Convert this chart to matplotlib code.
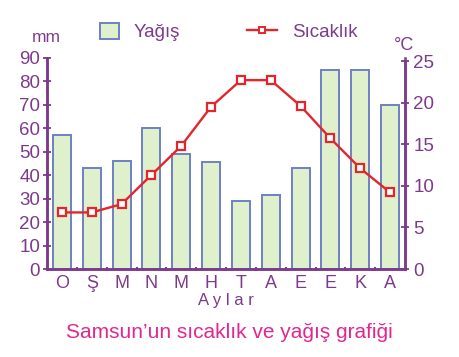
import matplotlib.pyplot as plt
from matplotlib.patches import Patch
from matplotlib.lines import Line2D

months = ["O", "Ş", "M", "N", "M", "H", "T", "A", "E", "E", "K", "A"]
yagis = [57, 43, 46, 60, 49, 45.5, 29, 31.5, 43, 85, 85, 70]
sicaklik = [6.8, 6.8, 7.8, 11.3, 14.8, 19.5, 22.7, 22.7, 19.6, 15.7, 12.1, 9.2]

purple = "#7d3a8c"
pink = "#e2278f"
red = "#e3262b"

plt.rcParams['font.family'] = ['Liberation Sans', 'DejaVu Sans']

fig = plt.figure(figsize=(4.59, 3.57), dpi=100)
ax = fig.add_axes([47/459, 1-269/357, (405-47)/459, (269-58)/357])
ax2 = ax.twinx()

x = list(range(len(months)))
ax.bar(x, yagis, width=0.6, color="#dff0cd", edgecolor="#6e80c2", linewidth=1.4, zorder=2)
ax2.plot(x, sicaklik, color=red, lw=1.7, marker="s", ms=5.5, mfc="white", mec=red, mew=1.6, zorder=3)

ax.set_xlim(-0.5, 11.5)
ax.set_ylim(0, 90)
ax2.set_ylim(0, 25 * 211 / 208)

ax.set_yticks(range(0, 91, 10))
ax2.set_yticks(range(0, 26, 5))
ax.set_xticks(x)
ax.set_xticklabels(months)
ax.set_xticks([i + 0.5 for i in range(11)], minor=True)
ax.tick_params(axis="x", which="major", length=0, pad=4, labelsize=13, labelcolor=purple)
ax.tick_params(axis="x", which="minor", length=3, width=1.5, color=purple, direction="inout")
ax.tick_params(axis="y", length=6, width=1.3, color=purple, direction="inout", labelsize=13.5, labelcolor=purple, pad=2)
ax2.tick_params(axis="y", length=6, width=1.3, color=purple, direction="inout", labelsize=13.5, labelcolor=purple, pad=3)

for a in (ax, ax2):
    a.spines["top"].set_visible(False)
    for s in ("left", "right", "bottom"):
        a.spines[s].set_color(purple)
        a.spines[s].set_linewidth(1.8)
ax.spines["left"].set_bounds(0, 90)
ax2.spines["right"].set_bounds(0, 25)

ax.set_xlabel("A y l a r", color=purple, fontsize=12, labelpad=1)

fig.text(46/459, 1-37/357, "mm", color=purple, fontsize=12.5, ha="center", va="center")
fig.text(404/459, 1-46/357, "°C", color=purple, fontsize=13, ha="center", va="center")

# legend: two separate entries so each sits where it does in the original
leg1 = fig.legend([Patch(facecolor="#dff0cd", edgecolor="#6e80c2", linewidth=1.4)], ["Yağış"],
                  frameon=False, loc="center left", bbox_to_anchor=(83/459, 1-32/357),
                  handlelength=1.0, handleheight=1.0, handletextpad=0.8, fontsize=13.5)
leg2 = fig.legend([Line2D([0], [0], color=red, lw=1.7, marker="s", ms=4.5, mfc="white", mec=red, mew=1.4)],
                  ["Sıcaklık"], frameon=False, loc="center left", bbox_to_anchor=(230/459, 1-32/357),
                  handlelength=1.6, handletextpad=0.8, fontsize=13.5)
for leg in (leg1, leg2):
    for t in leg.get_texts():
        t.set_color(purple)

fig.text(0.5, 1-333/357, "Samsun’un sıcaklık ve yağış grafiği", color=pink, fontsize=15, ha="center", va="center")

fig.savefig("out.png", dpi=100)
